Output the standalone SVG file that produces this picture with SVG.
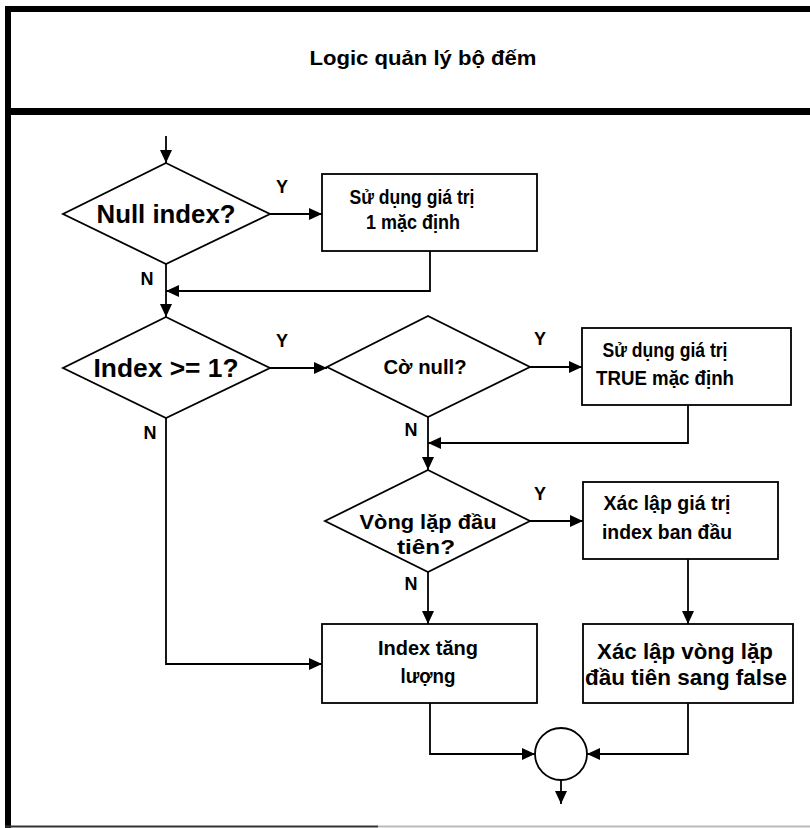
<svg xmlns="http://www.w3.org/2000/svg" width="810" height="828" viewBox="0 0 810 828">
<style>
  text { font-family: "Liberation Sans", Arial, sans-serif; font-weight: bold; fill: #000; }
  .shape { fill: #fff; stroke: #000; stroke-width: 1.8; }
  .conn { fill: none; stroke: #000; stroke-width: 1.8; }
  .big { font-size: 25px; }
  .lbl { font-size: 18px; }
</style>
<defs>
  <marker id="arr" markerUnits="userSpaceOnUse" markerWidth="14" markerHeight="12" refX="13" refY="6" orient="auto">
    <path d="M0,0 L13,6 L0,12 Z" fill="#000"/>
  </marker>
</defs>
<rect x="0" y="0" width="810" height="828" fill="#fff"/>
<g id="frame">
  <rect x="5" y="6" width="805" height="6" fill="#000"/>
  <rect x="5" y="6" width="6" height="822" fill="#000"/>
  <rect x="5" y="108" width="805" height="7" fill="#000"/>
  <line x1="5" y1="826.5" x2="378" y2="826.5" stroke="#333" stroke-width="2"/>
  <line x1="378" y1="826.5" x2="810" y2="826.5" stroke="#bbb" stroke-width="2"/>
  <text x="423" y="65" font-size="20" text-anchor="middle" textLength="227" lengthAdjust="spacingAndGlyphs">Logic quản lý bộ đếm</text>
</g>
<g id="connectors">
  <line class="conn" x1="166" y1="136" x2="166" y2="163" marker-end="url(#arr)"/>
  <line class="conn" x1="270" y1="214" x2="322" y2="214" marker-end="url(#arr)"/>
  <polyline class="conn" points="430,251 430,291 166,291" marker-end="url(#arr)"/>
  <line class="conn" x1="166" y1="264" x2="166" y2="317" marker-end="url(#arr)"/>
  <line class="conn" x1="270" y1="368" x2="327" y2="368" marker-end="url(#arr)"/>
  <line class="conn" x1="530" y1="367" x2="582" y2="367" marker-end="url(#arr)"/>
  <polyline class="conn" points="688,405 688,443 428,443" marker-end="url(#arr)"/>
  <line class="conn" x1="428" y1="417" x2="428" y2="470" marker-end="url(#arr)"/>
  <line class="conn" x1="530" y1="521" x2="583" y2="521" marker-end="url(#arr)"/>
  <polyline class="conn" points="166,418 166,664 322,664" marker-end="url(#arr)"/>
  <line class="conn" x1="428" y1="572" x2="428" y2="624" marker-end="url(#arr)"/>
  <line class="conn" x1="688" y1="559" x2="688" y2="624" marker-end="url(#arr)"/>
  <polyline class="conn" points="430,703 430,754 535,754" marker-end="url(#arr)"/>
  <polyline class="conn" points="688,703 688,754 587,754" marker-end="url(#arr)"/>
  <line class="conn" x1="561" y1="780" x2="561" y2="804" marker-end="url(#arr)"/>
  <text class="lbl" x="282" y="193" text-anchor="middle">Y</text>
  <text class="lbl" x="147" y="285" text-anchor="middle">N</text>
  <text class="lbl" x="282" y="347" text-anchor="middle">Y</text>
  <text class="lbl" x="150" y="439" text-anchor="middle">N</text>
  <text class="lbl" x="540" y="345" text-anchor="middle">Y</text>
  <text class="lbl" x="411" y="436" text-anchor="middle">N</text>
  <text class="lbl" x="540" y="500" text-anchor="middle">Y</text>
  <text class="lbl" x="411" y="590" text-anchor="middle">N</text>
</g>
<g id="d_null_index">
  <polygon class="shape" points="166,163 270,214 166,264 63,214"/>
  <text class="big" x="166" y="223" text-anchor="middle" textLength="139" lengthAdjust="spacingAndGlyphs">Null index?</text>
</g>
<g id="b_default_1">
  <rect class="shape" x="322" y="174" width="215" height="77"/>
  <text font-size="20" x="412" y="204" text-anchor="middle" textLength="125" lengthAdjust="spacingAndGlyphs">Sử dụng giá trị</text>
  <text font-size="20" x="413" y="229" text-anchor="middle" textLength="94" lengthAdjust="spacingAndGlyphs">1 mặc định</text>
</g>
<g id="d_index_ge_1">
  <polygon class="shape" points="166,317 270,368 166,418 63,368"/>
  <text class="big" x="166" y="377" text-anchor="middle" textLength="145" lengthAdjust="spacingAndGlyphs">Index &gt;= 1?</text>
</g>
<g id="d_flag_null">
  <polygon class="shape" points="428,316 530,367 428,417 327,367"/>
  <text font-size="20" x="425" y="374" text-anchor="middle" textLength="83" lengthAdjust="spacingAndGlyphs">Cờ null?</text>
</g>
<g id="b_default_true">
  <rect class="shape" x="582" y="328" width="209" height="77"/>
  <text font-size="20" x="665" y="357" text-anchor="middle" textLength="125" lengthAdjust="spacingAndGlyphs">Sử dụng giá trị</text>
  <text font-size="20" x="665" y="385" text-anchor="middle" textLength="138" lengthAdjust="spacingAndGlyphs">TRUE mặc định</text>
</g>
<g id="d_first_loop">
  <polygon class="shape" points="428,470 530,521 428,572 325,521"/>
  <text font-size="21" x="428" y="529" text-anchor="middle" textLength="137" lengthAdjust="spacingAndGlyphs">Vòng lặp đầu</text>
  <text font-size="21" x="426" y="554" text-anchor="middle" textLength="58" lengthAdjust="spacingAndGlyphs">tiên?</text>
</g>
<g id="b_init_index">
  <rect class="shape" x="583" y="482" width="195" height="77"/>
  <text font-size="20" x="667" y="510" text-anchor="middle" textLength="127" lengthAdjust="spacingAndGlyphs">Xác lập giá trị</text>
  <text font-size="20" x="667" y="539" text-anchor="middle" textLength="130" lengthAdjust="spacingAndGlyphs">index ban đầu</text>
</g>
<g id="b_increment">
  <rect class="shape" x="322" y="624" width="215" height="79"/>
  <text font-size="20" x="428" y="655" text-anchor="middle" textLength="100" lengthAdjust="spacingAndGlyphs">Index tăng</text>
  <text font-size="20" x="428" y="683" text-anchor="middle" textLength="55" lengthAdjust="spacingAndGlyphs">lượng</text>
</g>
<g id="b_set_false">
  <rect class="shape" x="583" y="624" width="210" height="79"/>
  <text font-size="22" x="685" y="659" text-anchor="middle" textLength="176" lengthAdjust="spacingAndGlyphs">Xác lập vòng lặp</text>
  <text font-size="22" x="686" y="685" text-anchor="middle" textLength="202" lengthAdjust="spacingAndGlyphs">đầu tiên sang false</text>
</g>
<g id="merge">
  <circle class="shape" cx="561" cy="754" r="26"/>
</g>
</svg>
